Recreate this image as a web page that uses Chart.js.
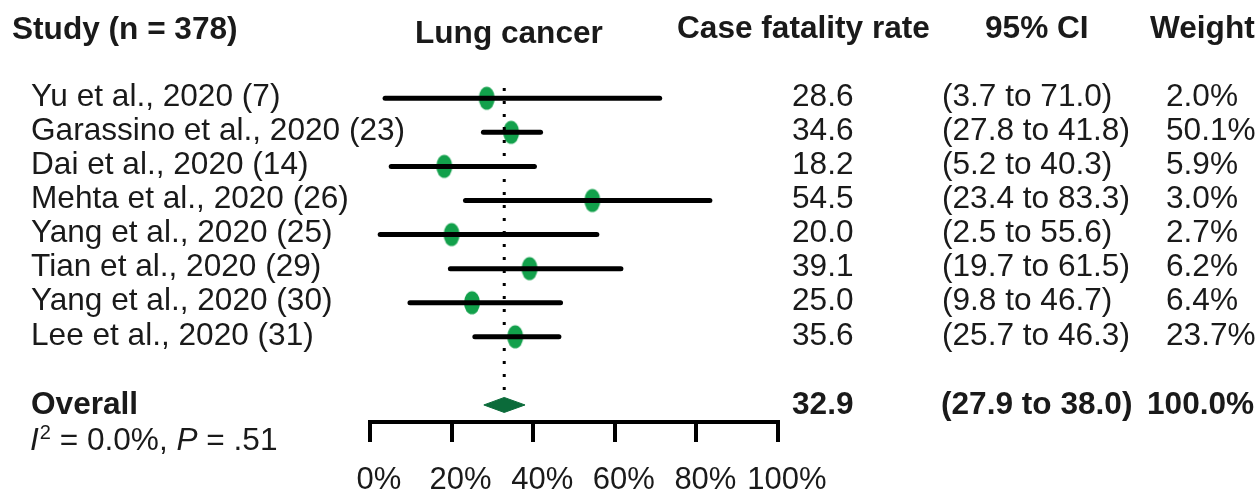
<!DOCTYPE html>
<html>
<head>
<meta charset="utf-8">
<script src="https://cdn.jsdelivr.net/npm/chart.js@4"></script>
<style>
  body { margin: 0; background: #fff; }
  #wrap { width: 1259px; height: 494px; }
</style>
</head>
<body>
<div id="wrap"><canvas id="chart"></canvas></div>
<script>
// --- data ---
const studies = [
  "Yu et al., 2020 (7)",
  "Garassino et al., 2020 (23)",
  "Dai et al., 2020 (14)",
  "Mehta et al., 2020 (26)",
  "Yang et al., 2020 (25)",
  "Tian et al., 2020 (29)",
  "Yang et al., 2020 (30)",
  "Lee et al., 2020 (31)"
];
const cfr = [28.6, 34.6, 18.2, 54.5, 20.0, 39.1, 25.0, 35.6];
const ciLow = [3.7, 27.8, 5.2, 23.4, 2.5, 19.7, 9.8, 25.7];
const ciHigh = [71.0, 41.8, 40.3, 83.3, 55.6, 61.5, 46.7, 46.3];
const weights = ["2.0%", "50.1%", "5.9%", "3.0%", "2.7%", "6.2%", "6.4%", "23.7%"];
const overall = 32.9;
const overallLow = 27.9;
const overallHigh = 38.0;
const overallWeight = "100.0%";
const xTicks = [0, 20, 40, 60, 80, 100];

const overallRow = 9;
const FONT = "Liberation Sans, Arial, sans-serif";
const TEXT = "#1a1a1a";
const REG = "31.6px " + FONT;
const BOLD = "bold 31.6px " + FONT;

// green ellipse marker
const marker = document.createElement("canvas");
marker.width = 18;
marker.height = 26;
const mctx = marker.getContext("2d");
mctx.fillStyle = "#12a04b";
mctx.beginPath();
mctx.ellipse(9, 13, 8, 11.5, 0, 0, Math.PI * 2);
mctx.fill();

const datasets = [];

// dotted line at overall estimate
datasets.push({
  type: "line",
  data: [{ x: overall, y: -0.3 }, { x: overall, y: 8.75 }],
  borderColor: "#000",
  borderWidth: 3,
  borderDash: [3, 10],
  pointRadius: 0
});

// confidence intervals
studies.forEach((s, i) => {
  datasets.push({
    type: "line",
    data: [{ x: ciLow[i], y: i }, { x: ciHigh[i], y: i }],
    borderColor: "#000",
    borderWidth: 5,
    borderCapStyle: "round",
    pointRadius: 0
  });
});

// point estimates
datasets.push({
  type: "scatter",
  data: cfr.map((v, i) => ({ x: v, y: i })),
  pointStyle: marker,
  pointRadius: 12
});

// overall diamond
datasets.push({
  type: "line",
  data: [
    { x: overallLow, y: overallRow },
    { x: overall, y: overallRow - 0.22 },
    { x: overallHigh, y: overallRow },
    { x: overall, y: overallRow + 0.22 },
    { x: overallLow, y: overallRow }
  ],
  borderColor: "#0b6b3a",
  backgroundColor: "#0b6b3a",
  borderWidth: 1,
  fill: "shape",
  pointRadius: 0,
  tension: 0
});

// --- text columns drawn against the y scale ---
const textPlugin = {
  id: "forestText",
  afterDraw(chart) {
    const ctx = chart.ctx;
    const y = chart.scales.y;
    ctx.save();
    ctx.fillStyle = TEXT;
    ctx.textBaseline = "middle";
    ctx.textAlign = "left";

    ctx.font = BOLD;
    const hy = y.getPixelForValue(-2);
    ctx.fillText("Study (n = 378)", 12, hy);
    ctx.fillText("Lung cancer", 415, hy + 4);
    ctx.fillText("Case fatality rate", 677, hy - 1);
    ctx.fillText("95% CI", 985, hy - 1);
    ctx.fillText("Weight", 1150, hy - 1);

    ctx.font = REG;
    studies.forEach((s, i) => {
      const py = y.getPixelForValue(i) - 1;
      ctx.fillText(s, 31, py);
      ctx.fillText(cfr[i].toFixed(1), 792, py);
      ctx.fillText("(" + ciLow[i].toFixed(1) + " to " + ciHigh[i].toFixed(1) + ")", 942, py);
      ctx.fillText(weights[i], 1166, py);
    });

    const oy = y.getPixelForValue(overallRow);
    ctx.font = BOLD;
    ctx.fillText("Overall", 31, oy);
    ctx.fillText(overall.toFixed(1), 792, oy);
    ctx.fillText("(" + overallLow.toFixed(1) + " to " + overallHigh.toFixed(1) + ")", 941, oy);
    ctx.fillText(overallWeight, 1147, oy);

    // I^2 line
    let ix = 30;
    const iy = oy + 36;
    ctx.font = "italic 31.6px " + FONT;
    ctx.fillText("I", ix, iy);
    ix += ctx.measureText("I").width + 1;
    ctx.font = "20px " + FONT;
    ctx.fillText("2", ix, iy - 7);
    ix += ctx.measureText("2").width;
    ctx.font = REG;
    ctx.fillText(" = 0.0%, ", ix, iy);
    ix += ctx.measureText(" = 0.0%, ").width;
    ctx.font = "italic 31.6px " + FONT;
    ctx.fillText("P", ix, iy);
    ix += ctx.measureText("P").width;
    ctx.font = REG;
    ctx.fillText(" = .51", ix, iy);
    ctx.restore();
  }
};

new Chart(document.getElementById("chart"), {
  data: { datasets: datasets },
  options: {
    responsive: true,
    maintainAspectRatio: false,
    animation: false,
    layout: { padding: { left: 370, right: 481, top: 9, bottom: 0 } },
    plugins: { legend: { display: false }, tooltip: { enabled: false } },
    scales: {
      x: {
        type: "linear",
        position: "bottom",
        min: 0,
        max: 100,
        afterBuildTicks: (s) => { s.ticks = xTicks.map(v => ({ value: v })); },
        afterFit: (s) => { s.height = 72; },
        border: { display: true, color: "#000", width: 4 },
        grid: { drawOnChartArea: false, drawTicks: true, tickLength: 20, lineWidth: 4, color: "#000" },
        ticks: {
          color: TEXT,
          font: { family: FONT, size: 31 },
          padding: 20,
          labelOffset: 9,
          autoSkip: false,
          maxRotation: 0,
          callback: (v) => v + "%"
        }
      },
      y: {
        type: "linear",
        display: false,
        reverse: true,
        min: -2.5,
        max: 9.5
      }
    }
  },
  plugins: [textPlugin]
});
</script>
</body>
</html>
